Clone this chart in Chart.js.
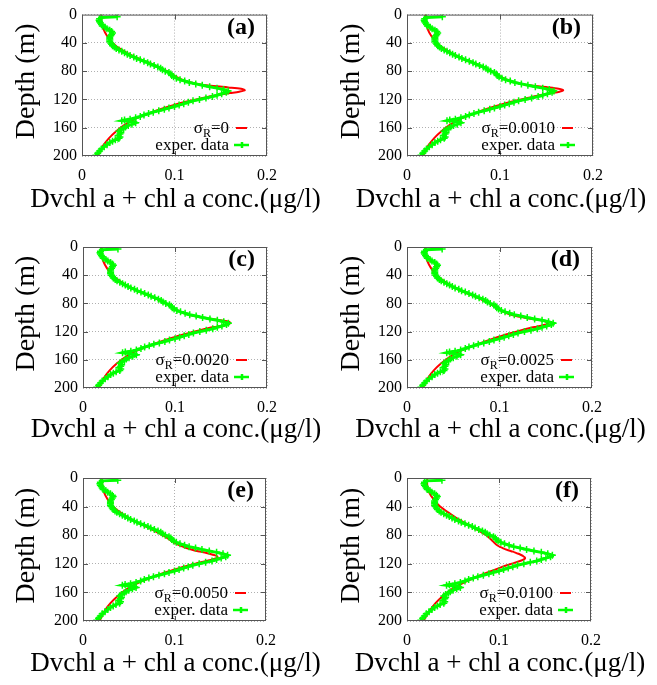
<!DOCTYPE html>
<html lang="en">
<head>
<meta charset="UTF-8">
<title>Dvchl a + chl a concentration profiles</title>
<script src="https://cdn.jsdelivr.net/npm/chart.js"></script>
<style>
  body { margin: 0; background: #fff; }
  #page { position: relative; width: 657px; height: 685px; overflow: hidden; }
  #page canvas { position: absolute; }
</style>
</head>
<body>
<div id="page"></div>
<script>
// ---- data ----
const depthTicks = [0, 40, 80, 120, 160, 200];
const concTicks = [0, 0.1, 0.2];
const panelNames = ['(a)', '(b)', '(c)', '(d)', '(e)', '(f)'];
const sigmaR = ['0', '0.0010', '0.0020', '0.0025', '0.0050', '0.0100'];
const xTitle = 'Dvchl a + chl a conc.(\u03bcg/l)';
const yTitle = 'Depth (m)';

// experimental profile (same in every panel)
const expDepth = [3, 4, 6, 8, 10, 12, 14, 16, 18, 20, 22, 24, 26, 28, 30, 32, 34, 36, 38, 40,
  42, 44, 46, 48, 50, 52, 54, 56, 58, 60, 62, 64, 66, 68, 70, 72, 74, 76, 78, 80,
  82, 84, 86, 88, 90, 92, 94, 96, 98, 100, 102, 104, 106, 108, 110, 112, 114, 116, 118, 120,
  122, 124, 126, 128, 130, 132, 134, 136, 138, 140, 142, 144, 146, 148, 149, 150, 151, 152, 153, 155,
  157, 159, 161, 163, 165, 167, 169, 171, 173, 175, 177, 179, 181, 184, 187, 190, 193, 196, 199];
const expConc = [0.038, 0.021, 0.019, 0.0185, 0.019, 0.020, 0.021, 0.022, 0.025, 0.027, 0.030, 0.032, 0.033, 0.032, 0.031, 0.030, 0.030, 0.030, 0.030, 0.031,
  0.032, 0.033, 0.035, 0.037, 0.040, 0.043, 0.046, 0.049, 0.052, 0.056, 0.059, 0.063, 0.067, 0.071, 0.074, 0.078, 0.082, 0.085, 0.087, 0.090,
  0.094, 0.096, 0.097, 0.099, 0.102, 0.106, 0.111, 0.116, 0.123, 0.130, 0.138, 0.146, 0.153, 0.158, 0.156, 0.151, 0.146, 0.141, 0.134, 0.127,
  0.120, 0.115, 0.110, 0.105, 0.100, 0.094, 0.089, 0.083, 0.077, 0.072, 0.067, 0.063, 0.058, 0.052, 0.046, 0.043, 0.050, 0.056, 0.058, 0.054,
  0.050, 0.047, 0.045, 0.042, 0.040, 0.042, 0.041, 0.039, 0.041, 0.040, 0.036, 0.033, 0.030, 0.027, 0.024, 0.021, 0.019, 0.017, 0.015];

// model profiles, one per sigma_R
const modelDepth = [0, 10, 20, 30, 40, 50, 60, 70, 80, 88, 94, 98, 101, 103, 105, 107, 109, 111, 113, 115,
  119, 124, 130, 136, 142, 148, 156, 165, 175, 185, 195, 200];
const modelA = [0.021, 0.021, 0.023, 0.027, 0.033, 0.043, 0.057, 0.076, 0.092, 0.102, 0.112, 0.125, 0.142, 0.158, 0.172, 0.176, 0.170, 0.160, 0.150, 0.141,
  0.127, 0.110, 0.094, 0.080, 0.068, 0.057, 0.046, 0.037, 0.029, 0.023, 0.019, 0.017];
const modelB = [0.020, 0.020, 0.022, 0.026, 0.032, 0.042, 0.056, 0.075, 0.091, 0.101, 0.111, 0.123, 0.138, 0.152, 0.163, 0.168, 0.164, 0.156, 0.147, 0.139,
  0.126, 0.110, 0.094, 0.080, 0.068, 0.057, 0.046, 0.037, 0.029, 0.023, 0.019, 0.017];
const modelC = [0.020, 0.020, 0.022, 0.026, 0.032, 0.042, 0.056, 0.074, 0.090, 0.100, 0.110, 0.121, 0.134, 0.146, 0.155, 0.160, 0.159, 0.153, 0.145, 0.137,
  0.124, 0.109, 0.094, 0.080, 0.068, 0.057, 0.046, 0.037, 0.029, 0.023, 0.019, 0.017];
const modelD = [0.020, 0.020, 0.022, 0.026, 0.032, 0.042, 0.055, 0.073, 0.089, 0.099, 0.108, 0.118, 0.130, 0.140, 0.148, 0.153, 0.152, 0.147, 0.140, 0.133,
  0.121, 0.107, 0.093, 0.080, 0.068, 0.057, 0.046, 0.037, 0.029, 0.023, 0.019, 0.017];
const modelE = [0.021, 0.021, 0.023, 0.027, 0.033, 0.043, 0.056, 0.072, 0.087, 0.097, 0.105, 0.113, 0.121, 0.128, 0.135, 0.141, 0.146, 0.147, 0.144, 0.138,
  0.125, 0.110, 0.095, 0.081, 0.069, 0.058, 0.047, 0.038, 0.030, 0.024, 0.020, 0.018];
const modelF = [0.022, 0.022, 0.024, 0.029, 0.036, 0.047, 0.059, 0.073, 0.086, 0.093, 0.098, 0.104, 0.110, 0.115, 0.119, 0.123, 0.126, 0.128, 0.128, 0.125,
  0.116, 0.104, 0.092, 0.080, 0.069, 0.059, 0.048, 0.039, 0.031, 0.025, 0.020, 0.018];
const models = [modelA, modelB, modelC, modelD, modelE, modelF];

// canvas placement and plot area for each panel (px)
const boxes = [
  { x: 0,   y: 0,   w: 328, h: 230, l: 82, t: 14, r: 267, b: 156, xt: 30, yt: 27 },
  { x: 328, y: 0,   w: 329, h: 230, l: 79, t: 14, r: 265, b: 156, xt: 30, yt: 24 },
  { x: 0,   y: 230, w: 328, h: 230, l: 83, t: 17, r: 267, b: 158, xt: 30, yt: 27 },
  { x: 328, y: 230, w: 329, h: 230, l: 79, t: 17, r: 264, b: 158, xt: 30, yt: 24 },
  { x: 0,   y: 460, w: 328, h: 225, l: 83, t: 18, r: 266, b: 161, xt: 21, yt: 27 },
  { x: 328, y: 460, w: 329, h: 225, l: 79, t: 18, r: 263, b: 161, xt: 21, yt: 24 }
];

const SERIF = '"Liberation Serif", "Times New Roman", serif';
const RED = '#ff0000';
const GREEN = '#00ff00';
const FRAME = '#555555';

// border, inward ticks, axis titles, panel letter and gnuplot-like key
const frame = {
  id: 'frame',
  afterDatasetsDraw(chart, args, opts) {
    const { ctx, chartArea: a } = chart;
    const xs = chart.scales.x, ys = chart.scales.y;
    const box = opts.box;
    ctx.save();
    ctx.strokeStyle = FRAME;
    ctx.lineWidth = 1;
    ctx.strokeRect(a.left + 0.5, a.top + 0.5, a.right - a.left - 1, a.bottom - a.top - 1);
    ctx.beginPath();
    depthTicks.slice(1, -1).forEach(v => {
      const p = Math.round(ys.getPixelForValue(v)) + 0.5;
      ctx.moveTo(a.left, p); ctx.lineTo(a.left + 5, p);
      ctx.moveTo(a.right, p); ctx.lineTo(a.right - 5, p);
    });
    concTicks.slice(1, -1).forEach(v => {
      const p = Math.round(xs.getPixelForValue(v)) + 0.5;
      ctx.moveTo(p, a.bottom); ctx.lineTo(p, a.bottom - 5);
      ctx.moveTo(p, a.top); ctx.lineTo(p, a.top + 5);
    });
    ctx.stroke();

    ctx.fillStyle = '#000';
    // axis titles
    ctx.textAlign = 'center';
    ctx.textBaseline = 'middle';
    ctx.font = '27px ' + SERIF;
    ctx.fillText(xTitle, (a.left + a.right) / 2 + 1, box.h - box.xt);
    ctx.save();
    ctx.translate(box.yt, (a.top + a.bottom) / 2 - 4);
    ctx.rotate(-Math.PI / 2);
    ctx.font = '28px ' + SERIF;
    ctx.fillText(yTitle, 0, 0);
    ctx.restore();

    // panel letter
    ctx.font = 'bold 24px ' + SERIF;
    ctx.textAlign = 'right';
    ctx.fillText(opts.name, a.right - 12, a.top + 13);

    // key
    const y1 = a.bottom - 28, y2 = a.bottom - 11;
    const tx = a.right - 38;
    const big = '17px ' + SERIF, small = '12px ' + SERIF;
    ctx.textBaseline = 'alphabetic';
    ctx.textAlign = 'left';
    ctx.font = big;
    const wS = ctx.measureText('\u03c3').width;
    const wEq = ctx.measureText('=' + opts.sigma).width;
    ctx.font = small;
    const wR = ctx.measureText('R').width;
    const x0 = tx - (wS + wR + wEq);
    ctx.font = big;
    ctx.fillText('\u03c3', x0, y1 + 5);
    ctx.font = small;
    ctx.fillText('R', x0 + wS, y1 + 9);
    ctx.font = big;
    ctx.fillText('=' + opts.sigma, x0 + wS + wR, y1 + 5);
    ctx.textAlign = 'right';
    ctx.fillText('exper. data', tx, y2 + 5);

    ctx.lineWidth = 2;
    ctx.strokeStyle = RED;
    ctx.beginPath();
    ctx.moveTo(a.right - 31, y1); ctx.lineTo(a.right - 20, y1);
    ctx.stroke();
    ctx.strokeStyle = GREEN;
    ctx.lineWidth = 2.5;
    ctx.beginPath();
    ctx.moveTo(a.right - 33, y2); ctx.lineTo(a.right - 18, y2);
    const cx = a.right - 25;
    ctx.moveTo(cx, y2 - 3); ctx.lineTo(cx, y2 + 3);
    ctx.stroke();
    ctx.restore();
  }
};

const page = document.getElementById('page');

boxes.forEach((box, i) => {
  const canvas = document.createElement('canvas');
  canvas.width = box.w;
  canvas.height = box.h;
  canvas.style.left = box.x + 'px';
  canvas.style.top = box.y + 'px';
  page.appendChild(canvas);

  const expPoints = expDepth.map((d, k) => ({ x: expConc[k], y: d }));
  const modelPoints = modelDepth.map((d, k) => ({ x: models[i][k], y: d }));

  new Chart(canvas, {
    type: 'scatter',
    data: {
      datasets: [
        {
          label: 'exper. data',
          data: expPoints,
          showLine: true,
          borderColor: GREEN,
          backgroundColor: GREEN,
          borderWidth: 3,
          pointStyle: 'cross',
          pointRadius: 3.5,
          pointBorderWidth: 1.5,
          pointBorderColor: GREEN
        },
        {
          label: '\u03c3R=' + sigmaR[i],
          data: modelPoints,
          showLine: true,
          borderColor: RED,
          backgroundColor: RED,
          borderWidth: 2,
          pointRadius: 0,
          tension: 0.3
        }
      ]
    },
    options: {
      responsive: false,
      animation: false,
      layout: { padding: { left: 0, top: box.t, right: box.w - box.r, bottom: 0 } },
      plugins: {
        legend: { display: false },
        tooltip: { enabled: false },
        frame: { name: panelNames[i], sigma: sigmaR[i], box: box }
      },
      scales: {
        x: {
          type: 'linear',
          min: 0,
          max: 0.2,
          afterBuildTicks: s => { s.ticks = concTicks.map(v => ({ value: v })); },
          afterFit: s => { s.height = box.h - box.b; },
          ticks: {
            color: '#000',
            padding: 10,
            maxRotation: 0,
            autoSkip: false,
            font: { family: SERIF, size: 16 },
            callback: v => String(v)
          },
          grid: { color: '#b0b0b0', drawTicks: false, lineWidth: 1 },
          border: { display: false, dash: [1, 2] },
          title: { display: false }
        },
        y: {
          type: 'linear',
          reverse: true,
          min: 0,
          max: 200,
          afterBuildTicks: s => { s.ticks = depthTicks.map(v => ({ value: v })); },
          afterFit: s => { s.width = box.l; },
          ticks: {
            color: '#000',
            padding: 5,
            autoSkip: false,
            font: { family: SERIF, size: 16 },
            callback: v => String(v)
          },
          grid: { color: '#b0b0b0', drawTicks: false, lineWidth: 1 },
          border: { display: false, dash: [1, 2] },
          title: { display: false }
        }
      }
    },
    plugins: [frame]
  });
});
</script>
</body>
</html>
